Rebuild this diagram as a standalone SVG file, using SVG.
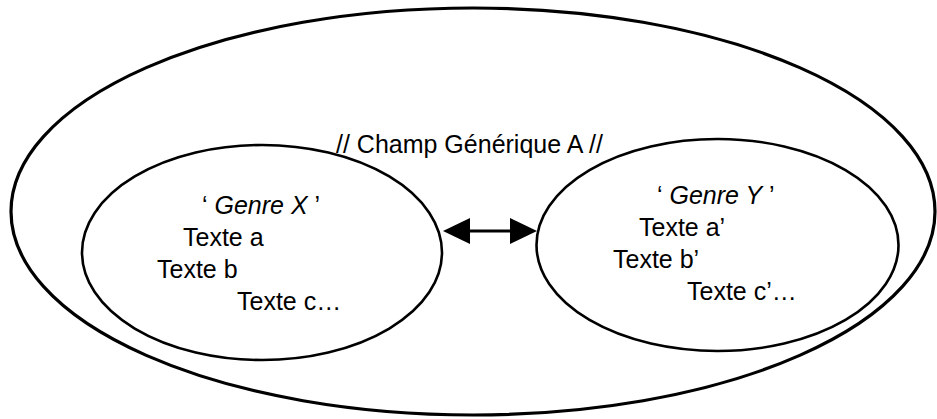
<svg xmlns="http://www.w3.org/2000/svg" width="937" height="419" viewBox="0 0 937 419">
  <style>
    .field { fill: none; stroke: #000; stroke-width: 3.2; }
    .genre { fill: none; stroke: #000; stroke-width: 2.6; }
    .txt { font-family: "Liberation Sans", Arial, sans-serif; font-size: 25px; fill: #000; }
    .it { font-style: italic; }
    .link { stroke: #000; stroke-width: 3.2; fill: none; }
  </style>
  <defs>
    <marker id="head" markerUnits="userSpaceOnUse" markerWidth="28" markerHeight="28"
            refX="15" refY="13" orient="auto-start-reverse" viewBox="0 0 28 28">
      <path d="M0,0 L27,13 L0,26 Z" fill="#000"/>
    </marker>
  </defs>

  <rect width="937" height="419" fill="#fff"/>

  <!-- generic field -->
  <g id="champ-generique">
    <ellipse class="field" cx="473" cy="211.5" rx="462" ry="203.5"/>
    <text class="txt" x="336" y="153">// Champ Générique A //</text>
  </g>

  <!-- genre X -->
  <g id="genre-x">
    <ellipse class="genre" cx="262" cy="252.5" rx="180" ry="107.5"/>
    <text class="txt" x="202" y="214">‘ <tspan class="it">Genre X</tspan> ’</text>
    <text class="txt" x="183" y="246">Texte a</text>
    <text class="txt" x="157" y="278">Texte b</text>
    <text class="txt" x="237" y="310">Texte c…</text>
  </g>

  <!-- genre Y -->
  <g id="genre-y">
    <ellipse class="genre" cx="717.5" cy="245" rx="181" ry="106"/>
    <text class="txt" x="657" y="204">‘ <tspan class="it">Genre Y</tspan> ’</text>
    <text class="txt" x="639" y="236">Texte a’</text>
    <text class="txt" x="613" y="268">Texte b’</text>
    <text class="txt" x="687" y="300">Texte c’…</text>
  </g>

  <!-- connectors -->
  <g id="connectors">
    <path class="link" d="M455,231 L525,231" marker-start="url(#head)" marker-end="url(#head)"/>
  </g>
</svg>
